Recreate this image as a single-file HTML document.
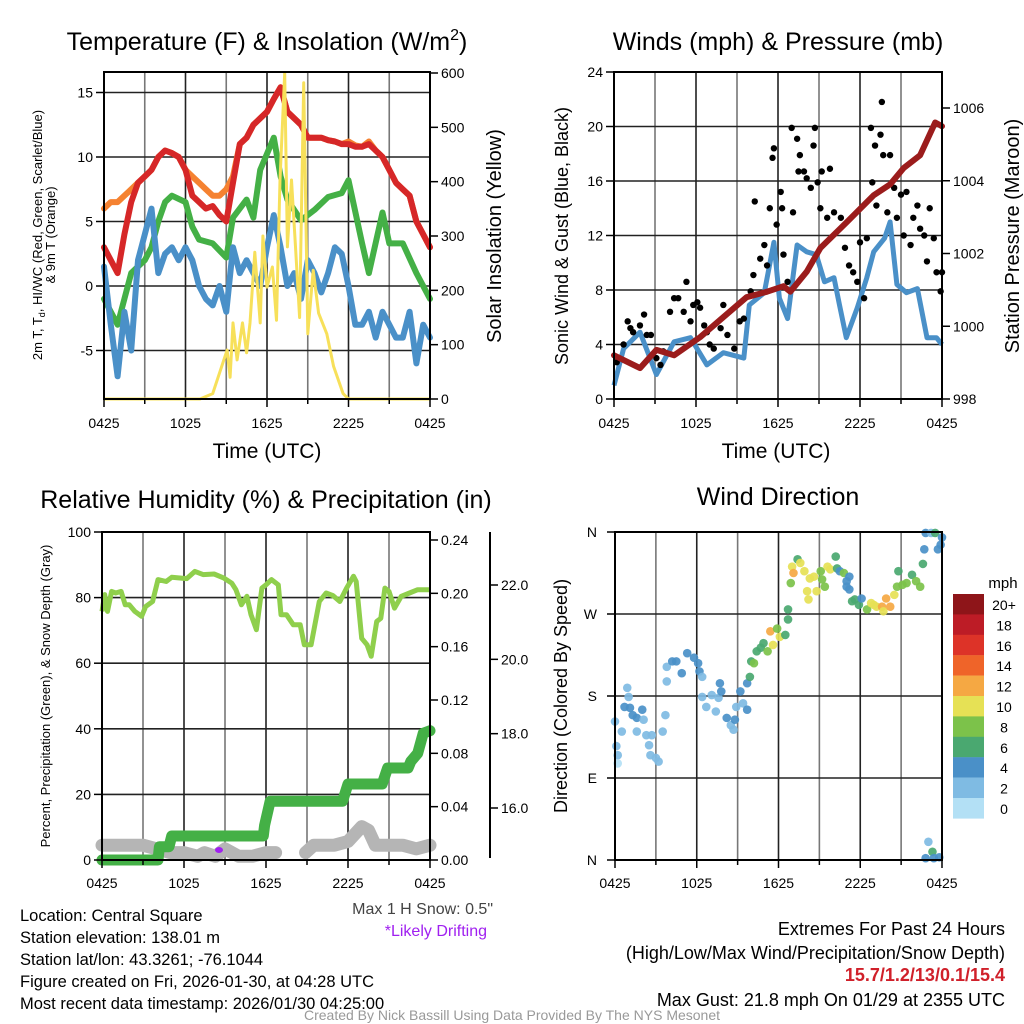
<!DOCTYPE html>
<html><head><meta charset="utf-8">
<style>
html,body{margin:0;padding:0;background:#fff;}
svg{display:block;font-family:"Liberation Sans",Arial,sans-serif;}
</style></head>
<body>
<svg id="c" width="1024" height="1024" viewBox="0 0 1024 1024" xmlns="http://www.w3.org/2000/svg">
<rect width="1024" height="1024" fill="#fff"/>
<g id="p1"></g>
<g id="p2"></g>
<g id="p3"></g>
<g id="p4"></g>
<g id="txt">
<text x="267" y="50" font-size="25" text-anchor="middle">Temperature (F) &amp; Insolation (W/m<tspan font-size="16" dy="-10">2</tspan><tspan dy="10">)</tspan></text>
<text x="778" y="50" font-size="25" text-anchor="middle">Winds (mph) &amp; Pressure (mb)</text>
<text x="266" y="508" font-size="25" text-anchor="middle">Relative Humidity (%) &amp; Precipitation (in)</text>
<text x="778" y="505" font-size="25" text-anchor="middle">Wind Direction</text>
<text x="267" y="458" font-size="21" text-anchor="middle">Time (UTC)</text>
<text x="776" y="458" font-size="21" text-anchor="middle">Time (UTC)</text>
<text transform="translate(42,235) rotate(-90)" font-size="13" text-anchor="middle">2m T, T<tspan font-size="9" dy="3">d</tspan><tspan dy="-3">, HI/WC (Red, Green, Scarlet/Blue)</tspan></text>
<text transform="translate(55,235) rotate(-90)" font-size="13" text-anchor="middle">&amp; 9m T (Orange)</text>
<text transform="translate(501,236) rotate(-90)" font-size="20" text-anchor="middle">Solar Insolation (Yellow)</text>
<text transform="translate(568,236) rotate(-90)" font-size="18" text-anchor="middle">Sonic Wind &amp; Gust (Blue, Black)</text>
<text transform="translate(1019,236) rotate(-90)" font-size="20" text-anchor="middle">Station Pressure (Maroon)</text>
<text transform="translate(50,696) rotate(-90)" font-size="13" text-anchor="middle">Percent, Precipitation (Green), &amp; Snow Depth (Gray)</text>
<text transform="translate(567,696) rotate(-90)" font-size="18" text-anchor="middle">Direction (Colored By Speed)</text>
<text x="1003" y="588" font-size="15" text-anchor="middle">mph</text>
<g font-size="16.5">
<text x="20" y="921">Location: Central Square</text>
<text x="20" y="943">Station elevation: 138.01 m</text>
<text x="20" y="965">Station lat/lon: 43.3261; -76.1044</text>
<text x="20" y="987">Figure created on Fri, 2026-01-30, at 04:28 UTC</text>
<text x="20" y="1009">Most recent data timestamp: 2026/01/30 04:25:00</text>
</g>
<text x="493" y="914" font-size="16" text-anchor="end" fill="#444">Max 1 H Snow: 0.5"</text>
<text x="487" y="936" font-size="16" text-anchor="end" fill="#a020f0">*Likely Drifting</text>
<g font-size="18" text-anchor="end">
<text x="1005" y="935">Extremes For Past 24 Hours</text>
<text x="1005" y="959">(High/Low/Max Wind/Precipitation/Snow Depth)</text>
<text x="1005" y="981" fill="#d0202a" font-weight="bold">15.7/1.2/13/0.1/15.4</text>
<text x="1005" y="1006">Max Gust: 21.8 mph On 01/29 at 2355 UTC</text>
</g>
<text x="512" y="1020" font-size="14" text-anchor="middle" fill="#999">Created By Nick Bassill Using Data Provided By The NYS Mesonet</text>
</g>
</svg>
<script>
// ---------- DATA (hours since 0425 UTC) ----------
const xTickLabels = ["0425","1025","1625","2225","0425"];
// Panel 1
const tTime = [0,0.5,1,1.5,2,2.5,3,3.5,4,4.5,5,5.5,6,6.5,7,7.5,8,8.5,9,9.5,10,10.5,11,11.5,12,12.5,13,13.5,14,14.5,15,15.5,16,16.5,17,17.5,18,18.5,19,19.5,20,20.5,21,21.5,22,22.5,23,23.5,24];
const tempRed = [3,2,1,4,6.5,8,8.5,9,10,10.5,10.3,10,9,7,6.5,6,6.2,5.5,5,8,11,11.5,12.5,13,13.5,14.5,15.4,13.5,13,12.5,11.5,11.5,11.5,11.3,11.2,11,11,10.8,10.8,11,10.5,10,9,8,7.5,7,5,4,3];
const temp9m = [6,6.5,6.5,7,7.5,8,8.5,9,10,10.5,10.3,10,9,8.5,8,7.5,7,7,7.5,8.5,11,11.5,12.5,13,13.5,14.5,15.4,13.5,13,12.5,11.5,11.5,11.5,11.3,11.2,11,11.2,10.9,10.8,11.2,10.5,10,9,8,7.5,7,5,4,3];
const dewTime = [0,0.5,1,1.5,2,2.5,3,3.5,4,4.5,5,6,6.5,7,8,9,9.5,10.5,11,11.5,12.5,13,13.5,14.5,15.5,16.5,17.5,18,19,19.5,20.5,21,22,23,24];
const dewGreen = [-1,-2,-3,-1,1,1.5,2,3,5,6.5,7,6.5,4.6,3.6,3.3,2.2,5.3,6.7,5.3,9,11.5,8.5,6.7,5.1,5.9,6.9,7.2,8.2,3.3,1,5.7,3.3,3.3,1,-1];
const wcBlue = [1.5,-3,-7,-2,-5,2,4,6,1,2.5,3,2,3,2,0,-1,-1.5,0,-2,3,1,2,1,0,3,5.5,3,0,1,-1,2,1,-0.5,1,3,2.5,0,-3,-3,-2,-4,-2,-3,-4,-4,-2,-6,-3,-4];
const solTime = [0,7.07,8.0,9.06,9.28,9.5,9.8,10.2,10.5,10.75,11.1,11.5,11.7,12.0,12.4,12.7,12.96,13.3,13.5,13.8,14.1,14.4,14.7,15.0,15.4,15.8,16.4,16.9,17.6,18.0,24];
const solar = [0,0,10,90,40,140,72,140,85,140,270,140,300,206,243,145,403,600,280,403,280,150,582,120,237,158,120,60,10,0,0];
const p1LeftTicks = [-5,0,5,10,15];
const p1RightTicks = [0,100,200,300,400,500,600];
// Panel 2
const windTime = [0,0.7,1.9,3.1,4.4,5.6,6.8,8.0,9.5,9.9,11.0,11.7,12.1,12.7,13.4,14.1,14.8,15.4,16.1,16.5,17.0,17.8,18.5,19.0,19.8,20.2,20.7,21.4,22.2,22.9,23.6,24];
const windSpd = [1,3.7,4.9,1.8,4.2,4.5,2.5,3.4,3,6.9,7.8,11.5,7.4,5.9,11.3,10.8,10.6,8.6,8.9,6.9,4.5,6.7,8.9,10.8,11.8,13,8.4,7.8,8.1,4.5,4.5,4];
const presTime = [0,1.9,3.1,4.4,6.3,8.0,9.7,11.2,12.4,12.9,14.1,15.1,17.0,19.0,20.2,21.2,22.4,23.5,24];
const pressure = [999.2,998.85,999.35,999.2,999.7,1000.25,1000.8,1000.95,1001.1,1000.95,1001.5,1002.15,1002.85,1003.6,1003.9,1004.35,1004.7,1005.6,1005.5];
const gustTime = [0.2,0.7,1.0,1.2,1.4,1.9,2.2,2.4,2.7,3.1,3.4,3.6,4.1,4.4,4.7,5.1,5.3,5.6,5.8,6.1,6.3,6.6,6.8,7.0,7.3,7.8,8.0,8.3,8.8,9.2,9.5,10.0,10.2,10.3,10.7,11.0,11.2,11.4,11.6,11.7,11.9,12.2,12.3,12.4,12.7,13.0,13.1,13.4,13.5,13.6,13.9,14.1,14.4,14.6,14.7,14.9,15.1,15.2,15.6,15.8,16.1,16.6,16.9,17.2,17.5,17.8,18.0,18.3,18.5,18.8,18.9,19.1,19.2,19.5,19.6,19.7,20.0,20.2,20.5,20.7,21.0,21.2,21.4,21.7,21.9,22.2,22.4,22.7,22.9,23.1,23.4,23.6,23.9,24.0];
const gust = [2.7,4.0,5.7,5.2,4.9,5.4,6.2,4.7,4.7,3.0,2.5,3.5,6.4,7.4,7.4,6.4,8.6,5.7,6.9,7.1,6.7,5.4,4.9,4.0,3.7,5.2,6.9,4.7,3.7,5.7,5.9,7.9,9.1,14.5,10.3,11.3,9.8,14.0,17.7,18.4,12.8,15.2,14.0,10.6,8.6,19.9,13.7,19.1,16.7,17.9,16.7,16.2,15.5,18.6,19.9,15.9,14.0,16.7,13.3,16.9,13.7,13.3,11.1,9.8,9.3,8.6,11.5,7.4,11.8,19.9,15.9,18.6,14.2,19.4,21.8,17.9,13.7,17.9,15.5,13.3,15.0,12.0,15.2,11.3,13.3,14.2,12.5,12.0,10.1,14.0,11.8,9.3,7.9,9.3];
const p2LeftTicks = [0,4,8,12,16,20,24];
const p2RightTicks = [998,1000,1002,1004,1006];
// Panel 3
const rhTime = [0,0.2,0.4,0.7,1.0,1.4,1.7,2.0,2.4,2.9,3.2,3.7,4.1,4.7,5.1,6.2,6.8,7.4,8.2,8.9,9.5,9.8,10.2,10.6,10.9,11.3,11.7,12.0,12.4,12.9,13.1,13.5,14.0,14.5,14.8,15.3,15.9,16.4,16.9,17.4,17.9,18.4,18.6,19.0,19.4,19.7,20.1,20.4,20.7,21.0,21.4,21.9,22.5,23.1,24];
const rh = [75.8,80.9,75.8,81.9,81.4,81.9,77.8,77.8,75.8,74.3,77.3,78.8,85.5,84.9,86.2,85.8,88,87,87.2,86,84.4,82.4,77.8,80.4,74.8,70.2,82.9,83.9,85.5,83.9,74.8,74.8,71.7,71.7,65.6,65.6,78.8,81.4,80.6,78.8,82.9,86.5,84.9,67.6,65.6,62.1,72.7,73.7,82.9,81.9,76.8,80.4,81.4,82.4,82.4];
const precipTime = [0,4.1,4.2,4.9,5.1,11.8,11.9,12.3,17.6,18.0,20.5,20.9,22.4,22.6,23.1,23.5,24];
const precip = [0,0,0.01,0.01,0.018,0.018,0.026,0.044,0.044,0.057,0.057,0.069,0.069,0.074,0.08,0.095,0.097];
const snowTime1 = [0,1,2,3,4,5,6,7,7.5,8.3,9,10,11,12,12.7];
const snow1 = [15.0,15.0,15.0,15.0,14.9,14.8,14.8,14.7,14.8,14.7,14.9,14.7,14.7,14.8,14.8];
const snowTime2 = [14.9,15.5,17,18,19,19.5,20,22,23,24];
const snow2 = [14.8,15.0,15.0,15.1,15.5,15.4,15.0,15.0,14.9,15.0];
const p3LeftTicks = [0,20,40,60,80,100];
const p3PrecipTicks = [0,0.04,0.08,0.12,0.16,0.20,0.24];
const p3SnowTicks = [16,18,20,22];
// Panel 4
const dirTime = [0,0.1,0.2,0.2,0.5,0.9,1.0,0.7,1.1,1.3,1.6,2.0,1.6,2.1,2.3,2.7,2.5,2.6,3.0,3.2,3.5,3.7,3.8,3.8,4.2,4.5,4.9,5.3,5.8,6.1,6.2,6.4,6.4,6.7,7.1,7.4,7.6,7.7,7.8,8.2,8.5,8.7,8.8,8.9,9.2,9.4,9.7,9.7,9.9,10.0,10.2,10.4,10.7,10.9,11.2,11.4,11.6,11.9,12.1,12.5,12.7,12.7,12.9,13.0,13.1,13.4,13.6,13.9,14.1,14.2,14.3,14.6,14.8,15.1,15.2,15.4,15.6,15.8,16.2,16.3,16.5,16.8,17.0,17.2,17.0,17.2,17.4,17.6,17.9,18.1,18.5,18.8,19.0,19.2,19.6,19.7,19.9,20.2,20.5,20.7,20.8,21.1,21.4,21.8,22.1,22.4,22.6,22.7,22.8,23.2,23.5,23.7,23.9,24.0,23.0,23.3,22.8,23.4,23.8];
const dirDeg = [152,125,115,106,141,189,179,168,167,159,156,165,141,154,137,137,126,115,112,108,141,159,196,212,218,218,205,227,222,216,207,201,179,168,181,163,178,194,185,156,148,143,154,168,185,172,165,194,201,218,216,229,233,238,229,251,236,254,245,247,264,275,304,322,315,330,326,317,295,286,309,311,295,317,308,300,322,319,333,320,317,315,306,311,300,297,284,286,280,287,275,282,280,278,278,273,287,278,291,300,317,302,304,313,306,300,325,341,359,359,359,341,346,354,20,9,2,2,3];
const dirSpeed = [2,2,1,0,2,2,2,3,4,4,4,4,2,2,2,2,2,2,2,2,2,2,2,2,4,4,4,4,4,3,4,2,2,2,2,2,2,4,4,4,2,2,4,2,3,2,4,4,6,6,7,6,6,6,8,12,10,8,10,6,6,6,8,10,12,6,10,10,10,10,10,10,10,8,8,8,10,10,6,6,4,8,4,4,4,4,6,6,6,4,8,10,10,10,12,10,12,12,10,8,6,8,8,6,8,8,6,4,4,2,6,4,4,4,2,6,4,4,4];
const cbLabels = ["20+","18","16","14","12","10","8","6","4","2","0"];
const cbColors = ["#8e1519","#bd1c26","#dd3328","#ef6429","#f5a843","#e6e155","#7cc24a","#4aa870","#4a90c8","#7fbbe3","#b3e0f5"];
const dirTickLabels = ["N","E","S","W","N"];
const dirTicks = [0,90,180,270,360];

// ---------- helpers ----------
const NS = "http://www.w3.org/2000/svg";
function mk(parent, tag, attrs) {
  const el = document.createElementNS(NS, tag);
  for (const k in attrs) el.setAttribute(k, attrs[k]);
  parent.appendChild(el);
  return el;
}
function pathD(ts, vs, sx, sy) {
  let d = "";
  for (let i = 0; i < ts.length; i++) d += (i ? "L" : "M") + sx(ts[i]).toFixed(1) + "," + sy(vs[i]).toFixed(1);
  return d;
}
function lin(d0, d1, r0, r1) { return v => r0 + (v - d0) / (d1 - d0) * (r1 - r0); }

function frameAndGrid(g, x0, x1, y0, y1, hLines, name) {
  for (let i = 1; i < 8; i++) {
    const x = x0 + (x1 - x0) * i / 8;
    const ln = mk(g, "line", {x1: x, x2: x, y1: y0, y2: y1, stroke: i % 2 ? "#777" : "#222", "stroke-width": 1.6});
    
    
  }
  hLines.forEach(y => {
    const ln = mk(g, "line", {x1: x0, x2: x1, y1: y, y2: y, stroke: "#222", "stroke-width": 1.6});
    
    
  });
}
function frame(g, x0, x1, y0, y1) {
  const r = mk(g, "rect", {x: x0, y: y0, width: x1 - x0, height: y1 - y0, fill: "none", stroke: "#000", "stroke-width": 2});
  
  
}
function xTicks(g, x0, x1, yb, ylab) {
  for (let i = 0; i <= 8; i++) {
    const x = x0 + (x1 - x0) * i / 8;
    const t = mk(g, "line", {x1: x, x2: x, y1: yb, y2: yb + (i % 2 ? 5 : 8), stroke: "#000", "stroke-width": 1.5});
    
    
  }
  xTickLabels.forEach((lab, i) => {
    const x = x0 + (x1 - x0) * i / 4;
    const t = mk(g, "text", {x: x, y: ylab, "font-size": 14, "text-anchor": "middle"});
    t.textContent = lab;
    
    
  });
}
function yTicks(g, ticks, sy, xAxis, side, labelFmt, name) {
  ticks.forEach(v => {
    const y = sy(v);
    const dx = side === "left" ? -8 : 8;
    const t = mk(g, "line", {x1: xAxis, x2: xAxis + dx, y1: y, y2: y, stroke: "#000", "stroke-width": 1.5});
    
    
    const lb = mk(g, "text", {x: xAxis + (side === "left" ? -11 : 11), y: y + 5, "font-size": 14, "text-anchor": side === "left" ? "end" : "start"});
    lb.textContent = labelFmt(v);
    
    
  });
}

// ---------- Panel 1 ----------
(function () {
  const g = document.getElementById("p1");
  const X0 = 104, X1 = 430, Y0 = 72, Y1 = 399;
  const sx = lin(0, 24, X0, X1);
  const sy = lin(0, 5, 286, 221.5);
  const sr = lin(0, 600, 399, 73);
  frameAndGrid(g, X0, X1, Y0, Y1, p1LeftTicks.map(sy), "p1");
  const series = [
    [tTime, temp9m, "#f58231", 6, "orange-9m-temp-line"],
    [tTime, tempRed, "#d62728", 6, "red-2m-temp-line"],
    [dewTime, dewGreen, "#44b046", 6, "green-dewpoint-line"],
    [tTime, wcBlue, "#4a90c8", 6, "blue-windchill-line"]
  ];
  series.forEach(s => {
    const p = mk(g, "path", {d: pathD(s[0], s[1], sx, sy), fill: "none", stroke: s[2], "stroke-width": s[3], "stroke-linejoin": "round", "stroke-linecap": "round"});
    
    
  });
  const sol = mk(g, "path", {d: pathD(solTime, solar, sx, sr), fill: "none", stroke: "#f7e05a", "stroke-width": 3, "stroke-linejoin": "round"});
  
  
  frame(g, X0, X1, Y0, Y1);
  xTicks(g, X0, X1, Y1, 428);
  yTicks(g, p1LeftTicks, sy, X0, "left", v => String(v), "temp-axis");
  yTicks(g, p1RightTicks, sr, X1, "right", v => String(v), "insolation-axis");
})();

// ---------- Panel 2 ----------
(function () {
  const g = document.getElementById("p2");
  const X0 = 614, X1 = 942, Y0 = 72, Y1 = 399;
  const sx = lin(0, 24, X0, X1);
  const sy = lin(0, 24, 399, 72);
  const sp = lin(998, 1006, 399, 108);
  frameAndGrid(g, X0, X1, Y0, Y1, [4, 8, 12, 16, 20].map(sy), "p2");
  const w = mk(g, "path", {d: pathD(windTime, windSpd, sx, sy), fill: "none", stroke: "#4a90c8", "stroke-width": 5, "stroke-linejoin": "round"});
  
  
  gustTime.forEach((t, i) => {
    const c = mk(g, "circle", {cx: sx(t), cy: sy(gust[i]), r: 3.2, fill: "#000"});
    
    
  });
  const p = mk(g, "path", {d: pathD(presTime, pressure, sx, sp), fill: "none", stroke: "#9b1c1c", "stroke-width": 6, "stroke-linejoin": "round", "stroke-linecap": "round"});
  
  
  frame(g, X0, X1, Y0, Y1);
  xTicks(g, X0, X1, Y1, 428);
  yTicks(g, p2LeftTicks, sy, X0, "left", v => String(v), "wind-axis");
  yTicks(g, p2RightTicks, sp, X1, "right", v => String(v), "pressure-axis");
})();

// ---------- Panel 3 ----------
(function () {
  const g = document.getElementById("p3");
  const X0 = 102, X1 = 430, Y0 = 532, Y1 = 860;
  const sx = lin(0, 24, X0, X1);
  const sy = lin(0, 100, 860, 532);
  const sp = lin(0, 0.24, 860, 540);
  const ss = lin(16, 22, 808, 585);
  frameAndGrid(g, X0, X1, Y0, Y1, [20, 40, 60, 80].map(sy), "p3");
  [[snowTime1, snow1], [snowTime2, snow2]].forEach(s => {
    const p = mk(g, "path", {d: pathD(s[0], s[1], sx, ss), fill: "none", stroke: "#b5b5b5", "stroke-width": 13, "stroke-linejoin": "round", "stroke-linecap": "round"});
    
    
  });
  const pr = mk(g, "path", {d: pathD(precipTime, precip, sx, sp), fill: "none", stroke: "#44b046", "stroke-width": 11, "stroke-linejoin": "round", "stroke-linecap": "round"});
  
  
  const dr = mk(g, "ellipse", {cx: 219, cy: 850, rx: 4, ry: 3, fill: "#a020f0"});
  
  
  const r = mk(g, "path", {d: pathD(rhTime, rh, sx, sy), fill: "none", stroke: "#8fcf4c", "stroke-width": 5, "stroke-linejoin": "round"});
  
  
  frame(g, X0, X1, Y0, Y1);
  xTicks(g, X0, X1, Y1, 888);
  yTicks(g, p3LeftTicks, sy, X0, "left", v => String(v), "percent-axis");
  yTicks(g, p3PrecipTicks, sp, X1, "right", v => v.toFixed(2), "precip-axis");
  const ax = mk(g, "line", {x1: 490, x2: 490, y1: 532, y2: 858, stroke: "#000", "stroke-width": 2});
  
  
  yTicks(g, p3SnowTicks, ss, 490, "right", v => v.toFixed(1), "snow-axis");
})();

// ---------- Panel 4 ----------
(function () {
  const g = document.getElementById("p4");
  const X0 = 615, X1 = 942, Y0 = 532, Y1 = 860;
  const sx = lin(0, 24, X0, X1);
  const sy = lin(0, 360, 860, 532);
  frameAndGrid(g, X0, X1, Y0, Y1, [90, 180, 270].map(sy), "p4");
  function col(s) { let b = Math.min(10, Math.floor(s / 2 + 0.5)); return cbColors[10 - b]; }
  dirTime.forEach((t, i) => {
    const c = mk(g, "circle", {cx: sx(t), cy: sy(dirDeg[i]), r: 4.3, fill: col(dirSpeed[i]), "fill-opacity": 0.92});
    
    
  });
  frame(g, X0, X1, Y0, Y1);
  xTicks(g, X0, X1, Y1, 888);
  dirTicks.forEach((d, i) => {
    const y = sy(d);
    const t = mk(g, "line", {x1: X0, x2: X0 - 8, y1: y, y2: y, stroke: "#000", "stroke-width": 1.5});
    
    
    const lb = mk(g, "text", {x: 597, y: y + 5, "font-size": 14, "text-anchor": "end"});
    lb.textContent = dirTickLabels[i];
    
    
  });
  cbColors.forEach((c, i) => {
    const r = mk(g, "rect", {x: 953, y: 594 + i * 20.4, width: 31, height: 20.6, fill: c});
    
    
    const lb = mk(g, "text", {x: 1004, y: 610 + i * 20.4, "font-size": 14, "text-anchor": "middle"});
    lb.textContent = cbLabels[i];
    
    
  });
})();
</script>
</body></html>
